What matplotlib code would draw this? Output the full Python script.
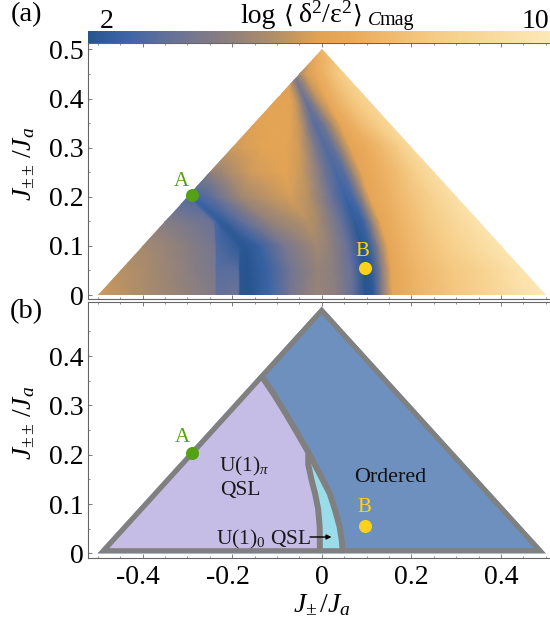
import matplotlib
matplotlib.use("Agg")
import numpy as np
import matplotlib.pyplot as plt
from matplotlib.colors import LinearSegmentedColormap
from matplotlib.patches import Polygon, FancyArrowPatch
from matplotlib.transforms import ScaledTranslation

plt.rcParams.update({
    'font.family': ['Liberation Serif', 'DejaVu Serif'],
    'mathtext.fontset': 'custom',
    'mathtext.rm': 'Liberation Serif',
    'mathtext.it': 'Liberation Serif:italic',
    'mathtext.bf': 'Liberation Serif:bold',
    'axes.unicode_minus': False,
})

# ---------- data ----------
triangle = [(-0.5, 0.0), (0.0, 0.5), (0.5, 0.0)]

# panel (a): for each J++ row, the J+ positions of the colour features and the value there
y_rows = [0.0, 0.05, 0.1, 0.15, 0.2, 0.25, 0.3, 0.35, 0.4, 0.45, 0.5]

x_00 = [-.5, -.4, -.3, -.238, -.235, -.186, -.182, -.16, -.115, -.07, -.01,
        .03, .07, .097, .115, .135, .158, .22, .3, .37, .45, .5]
x_05 = [-.5, -.4, -.3, -.238, -.235, -.186, -.182, -.165, -.12, -.07, -.01,
        .025, .068, .095, .112, .132, .155, .21, .29, .36, .44, .5]
x_10 = [-.5, -.4, -.3, -.238, -.235, -.186, -.182, -.17, -.14, -.085, -.01,
        .018, .06, .088, .106, .125, .147, .2, .27, .33, .4, .5]
x_15 = [-.5, -.35, -.3, -.242, -.239, -.232, -.229, -.222, -.18, -.12, -.03,
        -.005, .045, .073, .092, .11, .13, .18, .24, .29, .35, .5]
x_20 = [-.5, -.31, -.305, -.30, -.297, -.292, -.29, -.285, -.245, -.18, -.07,
        -.03, .025, .052, .07, .088, .107, .155, .2, .25, .3, .5]
x_25 = [-.5, -.26, -.258, -.256, -.254, -.252, -.25, -.245, -.22, -.16, -.08,
        -.045, .005, .032, .05, .068, .088, .13, .17, .21, .25, .5]
x_30 = [-.5, -.21, -.209, -.208, -.207, -.206, -.205, -.2, -.18, -.13, -.08,
        -.05, -.015, .008, .026, .045, .065, .1, .135, .17, .2, .5]
x_35 = [-.5, -.16, -.159, -.158, -.157, -.156, -.155, -.15, -.13, -.1, -.07,
        -.052, -.03, -.015, .002, .02, .04, .07, .09, .12, .15, .5]
x_40 = [-.5, -.11, -.109, -.108, -.107, -.106, -.105, -.1, -.09, -.08, -.07,
        -.06, -.048, -.038, -.025, -.01, .01, .035, .05, .075, .1, .5]
x_45 = [-.5, -.09, -.089, -.088, -.087, -.086, -.085, -.08, -.078, -.076, -.074,
        -.072, -.068, -.063, -.05, -.035, -.015, .005, .02, .035, .05, .5]
x_50 = [-.5, -.06, -.058, -.056, -.054, -.052, -.05, -.048, -.046, -.044, -.042,
        -.04, -.038, -.03, -.02, -.01, 0., .01, .02, .03, .04, .5]
x_rows = [x_00, x_05, x_10, x_15, x_20, x_25, x_30, x_35, x_40, x_45, x_50]

v_00 = [5.7, 5.1, 4.5, 4.1, 3.4, 3.6, 2.1, 2.0, 2.7, 3.8, 4.7,
        4.4, 3.4, 2.0, 2.2, 4.2, 6.2, 7.0, 7.8, 8.5, 9.4, 10.]
v_05 = [5.5, 5.1, 4.4, 3.9, 3.2, 3.2, 2.1, 2.0, 2.6, 3.7, 4.6,
        4.4, 3.4, 2.0, 2.3, 4.0, 6.2, 7.0, 7.8, 8.5, 9.6, 9.8]
v_10 = [5.0, 5.0, 4.3, 3.8, 3.0, 2.25, 2.15, 2.1, 2.5, 3.8, 4.9,
        4.5, 3.4, 2.05, 2.4, 4.2, 6.2, 7.1, 8.0, 8.8, 9.7, 9.7]
v_15 = [4.2, 4.2, 3.9, 3.5, 2.9, 2.4, 2.3, 2.3, 3.3, 4.5, 5.3,
        4.9, 3.4, 2.3, 2.6, 4.3, 6.2, 7.0, 7.9, 8.7, 9.6, 9.6]
v_20 = [3.2, 3.2, 3.1, 3.0, 2.9, 2.8, 2.7, 2.7, 3.3, 4.8, 5.8,
        5.3, 3.4, 2.6, 2.9, 4.4, 6.2, 6.9, 7.6, 8.5, 9.4, 9.4]
v_25 = [4.4, 4.4, 4.4, 4.4, 4.4, 4.4, 4.4, 4.5, 4.9, 5.7, 6.1,
        5.6, 3.7, 2.9, 3.2, 4.6, 6.1, 6.7, 7.4, 8.3, 9.2, 9.2]
v_30 = [5.7, 5.7, 5.7, 5.7, 5.7, 5.7, 5.7, 5.7, 5.8, 6.1, 6.2,
        5.7, 4.0, 3.1, 3.4, 4.8, 6.1, 6.6, 7.2, 8.0, 9.0, 9.0]
v_35 = [6.0, 6.0, 6.0, 6.0, 6.0, 6.0, 6.0, 6.0, 6.1, 6.2, 6.1,
        5.6, 4.0, 3.2, 3.7, 5.0, 6.2, 6.9, 7.4, 8.0, 8.8, 8.8]
v_40 = [6.0, 6.0, 6.0, 6.0, 6.0, 6.0, 6.0, 6.0, 6.0, 6.0, 6.0,
        5.6, 4.6, 3.5, 4.3, 5.4, 6.3, 7.0, 7.4, 8.0, 8.5, 8.5]
v_45 = [5.8, 5.8, 5.8, 5.8, 5.8, 5.8, 5.8, 5.8, 5.8, 5.8, 5.8,
        5.0, 4.6, 4.2, 4.9, 5.8, 6.4, 6.9, 7.4, 7.8, 8.2, 8.2]
v_50 = [5.0, 5.0, 5.0, 5.0, 5.0, 5.0, 5.0, 5.0, 5.0, 5.0, 5.0,
        5.0, 5.5, 5.8, 6.2, 6.6, 7.0, 7.2, 7.4, 7.6, 7.8, 8.0]
v_rows = [v_00, v_05, v_10, v_15, v_20, v_25, v_30, v_35, v_40, v_45, v_50]

# phase boundaries in panel (b)
boundary_ordered_x = [-0.137, -0.105, -0.078, -0.052, -0.03, -0.004, 0.018, 0.029, 0.04, 0.045, 0.047]
boundary_ordered_y = [0.363, 0.32, 0.28, 0.24, 0.205, 0.16, 0.121, 0.09, 0.054, 0.025, 0.0]
boundary_u10_x = [-0.03, -0.03, -0.023, -0.0145, -0.008, -0.0045, -0.004]
boundary_u10_y = [0.205, 0.18, 0.15, 0.12, 0.09, 0.054, 0.0]

point_a = (-0.29, 0.203)
point_b = (0.097, 0.056)

y_ticks_a = [0.0, 0.1, 0.2, 0.3, 0.4, 0.5]
y_labels_a = ['0', '0.1', '0.2', '0.3', '0.4', '0.5']
y_ticks_b = [0.0, 0.1, 0.2, 0.3, 0.4]
y_labels_b = ['0', '0.1', '0.2', '0.3', '0.4']
x_ticks = [-0.4, -0.2, 0.0, 0.2, 0.4]
x_labels = ['-0.4', '-0.2', '0', '0.2', '0.4']
x_minor = [-0.5, -0.45, -0.35, -0.3, -0.25, -0.15, -0.1, -0.05, 0.05, 0.1, 0.15, 0.25, 0.3, 0.35, 0.45, 0.5]
y_minor = [0.05, 0.15, 0.25, 0.35, 0.45]

cbar_min, cbar_max = 2.0, 10.0

# ---------- style ----------
W, H = 550.0, 624.0
cmap_stops = [(2.0, '#27558f'), (2.7, '#3f66a8'), (3.5, '#6a7298'), (4.4, '#8c7f7f'),
              (5.2, '#b08e68'), (6.0, '#e2a354'), (6.5, '#eaa95a'), (8.0, '#f6cc86'), (10.0, '#fde9b6')]
cmap = LinearSegmentedColormap.from_list(
    'mag', [((v - 2.0) / 8.0, c) for v, c in cmap_stops], N=512)
C_LAV, C_ORD, C_CYAN, C_GRAY = '#c5bde6', '#6e90bf', '#9adcea', '#808080'
C_A, C_B = '#55a014', '#ffd21a'
SPINE = '#666666'


def box(l, t, r, b):
    return [l / W, 1 - b / H, (r - l) / W, (b - t) / H]


def px(x, y, s, **kw):
    fig.text(x / W, 1 - y / H, s, **kw)


fig = plt.figure(figsize=(5.5, 6.24), dpi=100)
ax_a = fig.add_axes(box(88.3, 43.3, 550, 298.5))
ax_b = fig.add_axes(box(88.3, 302.3, 550, 558.3))
ax_c = fig.add_axes(box(88.3, 31, 550, 43.3))

xlim = (-0.521, 0.5096)
ax_a.set_xlim(xlim)
ax_a.set_ylim(-0.0071, 0.5126)
ax_b.set_xlim(xlim)
ax_b.set_ylim(-0.0101, 0.509)

# panel (a) heat map
X = np.array(x_rows)
Y = np.repeat(np.array(y_rows)[:, None], X.shape[1], axis=1)
mesh = ax_a.pcolormesh(X, Y, np.array(v_rows), cmap=cmap,
                       vmin=cbar_min, vmax=cbar_max, shading='gouraud')
clip_a = Polygon(triangle, closed=True, transform=ax_a.transData, fc='none', ec='none')
ax_a.add_patch(clip_a)
mesh.set_clip_path(clip_a)

# colour bar
ax_c.imshow(np.linspace(cbar_min, cbar_max, 512)[None, :], aspect='auto', cmap=cmap,
            vmin=cbar_min, vmax=cbar_max, extent=(cbar_min, cbar_max, 0, 1))
ax_c.axis('off')

# panel (b) phases
ax_b.add_patch(Polygon(triangle, closed=True, fc=C_ORD, ec='none', zorder=1))
lav = [triangle[0]] + list(zip(boundary_ordered_x[:5], boundary_ordered_y[:5])) \
    + list(zip(boundary_u10_x, boundary_u10_y))
ax_b.add_patch(Polygon(lav, closed=True, fc=C_LAV, ec='none', zorder=2))
cyan = list(zip(boundary_ordered_x[4:], boundary_ordered_y[4:])) \
    + list(zip(boundary_u10_x[::-1], boundary_u10_y[::-1]))
ax_b.add_patch(Polygon(cyan, closed=True, fc=C_CYAN, ec='none', zorder=2))
clip_b = Polygon(triangle, closed=True, transform=ax_b.transData, fc='none', ec='none')
ax_b.add_patch(clip_b)
for xs, ys in ((boundary_ordered_x, boundary_ordered_y), (boundary_u10_x, boundary_u10_y)):
    ln, = ax_b.plot(xs, ys, color=C_GRAY, lw=4.3, zorder=3, solid_capstyle='butt', solid_joinstyle='round')
    ln.set_clip_path(clip_b)
outline = Polygon(triangle, closed=True, fc='none', ec=C_GRAY, lw=7.4, zorder=4, joinstyle='miter')
ax_b.add_patch(outline)
outline.set_clip_path(clip_b)

# points
for ax in (ax_a, ax_b):
    ax.plot(*point_a, 'o', color=C_A, ms=9.4, mew=0, zorder=6, clip_on=False)
    ax.plot(*point_b, 'o', color=C_B, ms=9.4, mew=0, zorder=6, clip_on=False)

# axes furniture
for ax, yt, yl in ((ax_a, y_ticks_a, y_labels_a), (ax_b, y_ticks_b, y_labels_b)):
    ax.set_yticks(yt, yl)
    ax.set_yticks(y_minor, minor=True)
    ax.set_xticks(x_ticks, x_labels)
    ax.set_xticks(x_minor, minor=True)
    ax.tick_params(which='major', direction='in', length=3, width=0.6, color=SPINE,
                   top=True, labelsize=20, pad=3.5)
    ax.tick_params(which='minor', direction='in', length=1.5, width=0.5, color=SPINE, top=True)
    ax.spines['right'].set_visible(False)
    for s in ('left', 'top', 'bottom'):
        ax.spines[s].set_color(SPINE)
        ax.spines[s].set_linewidth(0.8)
ax_a.tick_params(axis='x', which='both', labelbottom=False)
ax_b.tick_params(axis='x', which='major', pad=5)
shift = ScaledTranslation(-4.5 / 100, 0, fig.dpi_scale_trans)
for lab in ax_b.get_xticklabels():
    if lab.get_text().startswith('-'):
        lab.set_transform(lab.get_transform() + shift)

# texts
px(27, 15, '(a)', fontsize=20.5, ha='center', va='center')
px(26, 312, '(b)', fontsize=20.5, ha='center', va='center')
px(106.7, 22, '2', fontsize=20, ha='center', va='center')
px(535, 21, '10', fontsize=20, ha='center', va='center')
px(240, 23, 'log', fontsize=20, ha='left', va='baseline')
px(284, 23, '⟨', fontsize=18, family='DejaVu Sans', ha='left', va='baseline')
px(298, 23, r'δ$^{2}$/ε$^{2}$', fontsize=20, ha='left', va='baseline')
px(353, 23, '⟩', fontsize=18, family='DejaVu Sans', ha='left', va='baseline')
px(368, 25, 'C', fontsize=14, style='italic', ha='left', va='baseline')
px(380, 25, 'mag', fontsize=14.5, ha='left', va='baseline')

ylab = r'$J_{\pm\pm}\,/J_a$'
px(24.5, 164, ylab, fontsize=20, rotation=90, ha='center', va='center')
px(24.5, 423, ylab, fontsize=20, rotation=90, ha='center', va='center')
px(322, 605, r'$J_{\pm}\,/J_a$', fontsize=20, ha='center', va='center')

px(181.7, 181, 'A', fontsize=15, color=C_A, ha='center', va='center')
px(362.7, 252, 'B', fontsize=15, color=C_B, ha='center', va='center')
px(182.4, 438, 'A', fontsize=15, color=C_A, ha='center', va='center')
px(364, 508, 'B', fontsize=15, color=C_B, ha='center', va='center')

px(219, 471, r'U(1)$_{\pi}$', fontsize=15.5, ha='left', va='baseline', color='#1a1a1a')
px(220, 495, 'QSL', fontsize=15.5, ha='left', va='baseline', color='#1a1a1a')
px(390, 481.5, 'Ordered', fontsize=15.8, ha='center', va='baseline', color='#111111')
px(215.7, 544, r'U(1)$_{0}$ QSL', fontsize=15.5, ha='left', va='baseline', color='#1a1a1a')
fig.add_artist(FancyArrowPatch(
    (310 / W, 1 - 537 / H), (331.5 / W, 1 - 537 / H), transform=fig.transFigure,
    arrowstyle='-|>', mutation_scale=7, lw=1.0, color='black', shrinkA=0, shrinkB=0, zorder=8))

fig.savefig('out.png', dpi=100)
